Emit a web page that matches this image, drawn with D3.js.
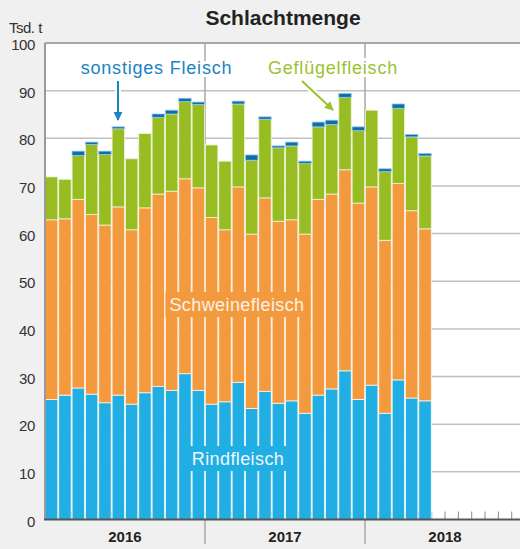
<!DOCTYPE html>
<html>
<head>
<meta charset="utf-8">
<script src="https://cdn.jsdelivr.net/npm/d3@7"></script>
<style>
  body { margin: 0; background: #f0f0f0; }
  svg { display: block; font-family: "Liberation Sans", Arial, sans-serif; }
</style>
</head>
<body>
<div id="chart"></div>
<script>
// Data, Tsd. t per month (Jan 2016 - May 2018)
var months = ["2016-01","2016-02","2016-03","2016-04","2016-05","2016-06","2016-07","2016-08","2016-09","2016-10","2016-11","2016-12",
  "2017-01","2017-02","2017-03","2017-04","2017-05","2017-06","2017-07","2017-08","2017-09","2017-10","2017-11","2017-12",
  "2018-01","2018-02","2018-03","2018-04","2018-05"];
var rindfleisch = [25.2,26.1,27.6,26.3,24.5,26.1,24.2,26.6,27.9,27.1,30.6,27.1,
  24.2,24.7,28.8,23.3,26.9,24.4,24.9,22.3,26.1,27.4,31.2,25.2,
  28.2,22.3,29.3,25.5,24.9];
var schweinefleisch = [37.7,37.0,39.6,37.7,37.3,39.5,36.6,38.8,40.4,41.8,40.9,42.5,
  39.2,36.1,41.0,36.6,40.6,38.2,38.0,37.6,41.1,40.9,42.2,41.2,
  41.6,36.3,41.2,39.3,36.1];
var gefluegelfleisch = [9.0,8.3,9.2,14.7,14.8,16.4,14.9,15.6,16.1,16.2,16.2,17.5,
  15.2,14.4,17.4,15.5,16.5,15.4,15.5,14.8,15.2,14.6,15.2,15.2,
  16.1,14.4,15.8,15.5,15.3];
var sonstiges = [0,0,0.9,0.5,0.7,0.4,0,0,0.7,0.8,0.7,0.5,
  0,0,0.6,1.1,0.5,0.4,0.8,0.5,1.0,0.9,0.8,0.8,
  0,0.6,0.9,0.5,0.5];
var years = ["2016","2017","2018"];
var yTicks = [0,10,20,30,40,50,60,70,80,90,100];
var seriesKeys = ["Rindfleisch","Schweinefleisch","Geflügelfleisch","sonstiges Fleisch"];
var colors = ["#21aee3","#f39a3e","#98bd22","#0b6ead"];
var strokes = ["#f6fbfd","#fcf3e6","#eef3d8","#8fc4e6"];

var svgWidth = 520;
var svgHeight = 549;
var margin = { top: 43, right: -5, bottom: 29.5, left: 45 };

var svg = d3.select("#chart")
  .append("svg")
  .attr("width", svgWidth)
  .attr("height", svgHeight);

// full axis range: every month of the three years
var allMonths = [];
years.forEach(function(y) {
  d3.range(1, 13).forEach(function(m) { allMonths.push(y + "-" + (m < 10 ? "0" + m : m)); });
});

var x = d3.scaleBand()
  .domain(allMonths)
  .range([margin.left, svgWidth - margin.right])
  .paddingInner(0.07)
  .paddingOuter(0.03);

var y = d3.scaleLinear()
  .domain([0, 100])
  .range([svgHeight - margin.bottom, margin.top]);

var table = months.map(function(m, i) {
  var row = { month: m };
  row[seriesKeys[0]] = rindfleisch[i];
  row[seriesKeys[1]] = schweinefleisch[i];
  row[seriesKeys[2]] = gefluegelfleisch[i];
  row[seriesKeys[3]] = sonstiges[i];
  return row;
});
var stacked = d3.stack().keys(seriesKeys)(table);

// plot background
svg.append("rect")
  .attr("x", margin.left)
  .attr("y", y(100))
  .attr("width", svgWidth - margin.left + 10)
  .attr("height", y(0) - y(100))
  .attr("fill", "#fff");

// horizontal gridlines
svg.append("g")
  .selectAll("line")
  .data(yTicks.filter(function(d) { return d > 0; }))
  .enter()
  .append("line")
  .attr("x1", margin.left)
  .attr("x2", svgWidth)
  .attr("y1", d => y(d))
  .attr("y2", d => y(d))
  .attr("stroke", d => d === 100 ? "#a8a8a8" : "#c0c0c0")
  .attr("stroke-width", d => d === 100 ? 2 : 1.5);

// year boundaries
var yearStarts = years.map(function(yr) { return x(yr + "-01") - x.step() * x.paddingInner() / 2; });
yearStarts.push(x("2018-12") + x.bandwidth() + x.step() * x.paddingInner() / 2);
svg.append("g")
  .selectAll("line")
  .data(yearStarts.slice(1))
  .enter()
  .append("line")
  .attr("x1", d => d)
  .attr("x2", d => d)
  .attr("y1", y(100))
  .attr("y2", svgHeight - 5)
  .attr("stroke", "#a8a8a8")
  .attr("stroke-width", 1.5);

// month ticks
svg.append("g")
  .selectAll("line")
  .data(allMonths.slice(1))
  .enter()
  .append("line")
  .attr("x1", d => x(d) - x.step() * x.paddingInner() / 2)
  .attr("x2", d => x(d) - x.step() * x.paddingInner() / 2)
  .attr("y1", y(0) - 8)
  .attr("y2", y(0))
  .attr("stroke", "#8a8a8a")
  .attr("stroke-width", 1);

// stacked bars
svg.append("g")
  .selectAll("g")
  .data(stacked)
  .enter()
  .append("g")
  .attr("fill", (d, i) => colors[i])
  .attr("stroke", (d, i) => strokes[i])
  .selectAll("rect")
  .data(d => d)
  .enter()
  .append("rect")
  .attr("x", d => x(d.data.month))
  .attr("y", d => y(d[1]))
  .attr("width", x.bandwidth())
  .attr("height", d => Math.max(0, y(d[0]) - y(d[1])))
  .attr("stroke-width", 0.8);

// axes lines
svg.append("line")
  .attr("x1", margin.left).attr("x2", margin.left)
  .attr("y1", y(100)).attr("y2", y(0))
  .attr("stroke", "#9a9a9a").attr("stroke-width", 2);
svg.append("line")
  .attr("x1", margin.left - 1).attr("x2", svgWidth)
  .attr("y1", y(0)).attr("y2", y(0))
  .attr("stroke", "#555").attr("stroke-width", 2);

// y tick labels
svg.append("g")
  .selectAll("text")
  .data(yTicks)
  .enter()
  .append("text")
  .attr("x", 35)
  .attr("y", d => y(d) + 7)
  .attr("text-anchor", "end")
  .attr("font-size", "15px")
  .attr("letter-spacing", "-0.4px")
  .attr("fill", "#333")
  .text(d => d);

// unit
svg.append("text")
  .attr("x", 9)
  .attr("y", 33)
  .attr("font-size", "15px")
  .attr("letter-spacing", "-0.5px")
  .attr("fill", "#333")
  .text("Tsd. t");

// title
svg.append("text")
  .attr("x", 283)
  .attr("y", 25)
  .attr("text-anchor", "middle")
  .attr("font-size", "21px")
  .attr("font-weight", "bold")
  .attr("fill", "#222")
  .text("Schlachtmenge");

// year labels
svg.append("g")
  .selectAll("text")
  .data(years)
  .enter()
  .append("text")
  .attr("x", (d, i) => (yearStarts[i] + yearStarts[i + 1]) / 2)
  .attr("y", 542)
  .attr("text-anchor", "middle")
  .attr("font-size", "15px")
  .attr("font-weight", "bold")
  .attr("fill", "#222")
  .text(d => d);

// labels inside the bars
var innerLabels = [
  { text: seriesKeys[1], cx: 237, cy: 304, bg: colors[1], fill: "#fdf1e4" },
  { text: seriesKeys[0], cx: 238, cy: 458, bg: colors[0], fill: "#eef8fd" }
];
innerLabels.forEach(function(l) {
  var t = svg.append("text")
    .attr("x", l.cx)
    .attr("y", l.cy + 6.5)
    .attr("text-anchor", "middle")
    .attr("font-size", "18px")
    .attr("letter-spacing", "0.4px")
    .attr("fill", l.fill)
    .text(l.text);
  var bb = t.node().getBBox();
  svg.insert("rect", function() { return t.node(); })
    .attr("x", bb.x - 4)
    .attr("y", l.cy - 12)
    .attr("width", bb.width + 8)
    .attr("height", 25)
    .attr("fill", l.bg);
});

// callout labels with arrows
var defs = svg.append("defs");
function arrowHead(id, color) {
  defs.append("marker")
    .attr("id", id)
    .attr("viewBox", "0 0 10 10")
    .attr("refX", 9).attr("refY", 5)
    .attr("markerWidth", 4.5).attr("markerHeight", 4.5)
    .attr("orient", "auto")
    .append("path")
    .attr("d", "M0,0L10,5L0,10z")
    .attr("fill", color);
}
var callouts = [
  { text: seriesKeys[3], tx: 156.5, ty: 74, color: "#1a83c3", from: [118, 81], to: [118, 120] },
  { text: seriesKeys[2], tx: 333, ty: 74, color: "#9cc230", from: [302, 81], to: [333, 110] }
];
callouts.forEach(function(c, i) {
  arrowHead("arrow" + i, c.color);
  svg.append("line")
    .attr("x1", c.from[0]).attr("y1", c.from[1])
    .attr("x2", c.to[0]).attr("y2", c.to[1])
    .attr("stroke", "#fff").attr("stroke-width", 6);
  svg.append("line")
    .attr("x1", c.from[0]).attr("y1", c.from[1])
    .attr("x2", c.to[0]).attr("y2", c.to[1])
    .attr("stroke", c.color).attr("stroke-width", 2)
    .attr("marker-end", "url(#arrow" + i + ")");
  svg.append("text")
    .attr("x", c.tx)
    .attr("y", c.ty)
    .attr("text-anchor", "middle")
    .attr("font-size", "18px")
    .attr("letter-spacing", "0.8px")
    .attr("fill", c.color)
    .attr("stroke", "#fff")
    .attr("stroke-width", 6)
    .attr("paint-order", "stroke")
    .text(c.text);
});
</script>
</body>
</html>
